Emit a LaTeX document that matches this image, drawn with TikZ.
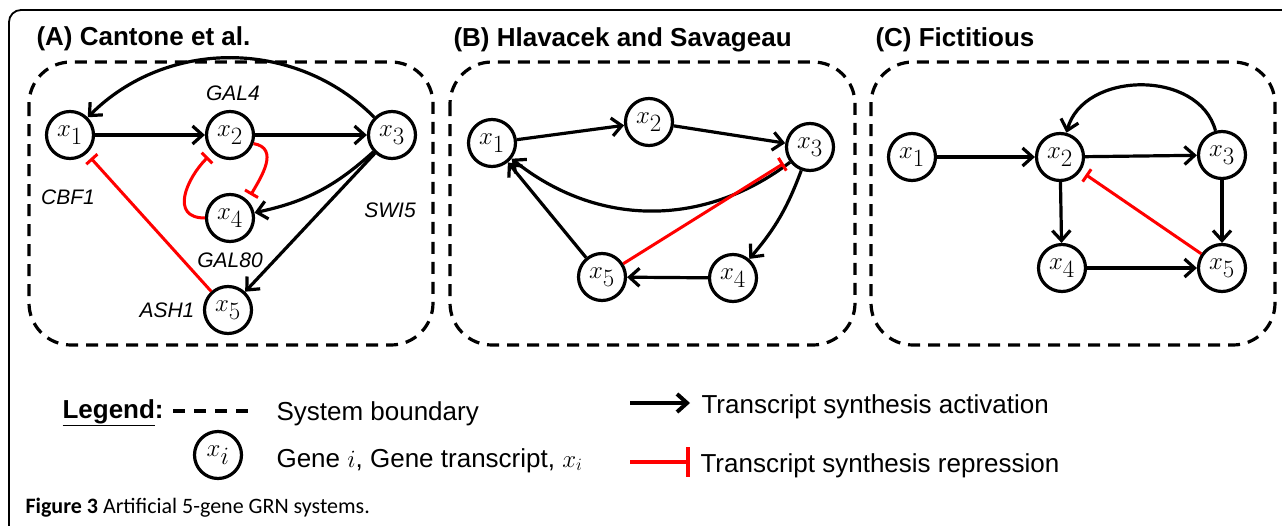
\documentclass[tikz,border=0pt]{standalone}
\usepackage{fontspec}
\setmainfont{Liberation Sans}
\newfontfamily\capfont{Carlito}
\usetikzlibrary{arrows.meta}

\begin{document}
\begin{tikzpicture}[x=1pt, y=1pt,
      gene/.style = {circle, draw, line width=3.2pt, minimum size=47pt,
        inner sep=0pt, font=\fontsize{33}{33}\selectfont},
      act/.style = {-{Straight Barb[length=10pt,width=18pt]}, line width=3.2pt},
      rep/.style = {-{Bar[width=15pt]}, draw=red, line width=3pt, shorten >=6pt},
      boundary/.style = {draw, line width=3.2pt, dash pattern=on 12pt off 8pt,
        rounded corners=42pt},
      heading/.style = {anchor=base west, font=\fontsize{26}{26}\selectfont\bfseries},
      genename/.style = {font=\fontsize{21}{21}\selectfont\itshape},
      key/.style = {anchor=base west, font=\fontsize{26}{26}\selectfont}]
  \path[use as bounding box] (0,0) rectangle (1282,-525);
  \draw[line width=1.8pt, rounded corners=12pt] (9,-540) |- (1300,-10);

  \draw[boundary] (29,-62) rectangle (433,-345);
  \draw[boundary] (450,-62) rectangle (855,-345);
  \draw[boundary] (871,-62) rectangle (1275,-345);

  \node[heading] (tA) at (33,-45) {(A) Cantone et al.};
  \node[heading] (tB) at (450,-46) {(B) Hlavacek and Savageau};
  \node[heading] (tC) at (872,-46) {(C) Fictitious};

  \node[gene] (a1) at (70,-135) {$x_1$};
  \node[gene] (a2) at (230,-135) {$x_2$};
  \node[gene] (a3) at (392,-135) {$x_3$};
  \node[gene] (a4) at (230,-218) {$x_4$};
  \node[gene] (a5) at (228,-310) {$x_5$};
  \node[genename] (gal4) at (233,-93) {GAL4};
  \node[genename] (cbf1) at (68,-197) {CBF1};
  \node[genename] (swi5) at (390,-210) {SWI5};
  \node[genename] (gal80) at (230,-260) {GAL80};
  \node[genename] (ash1) at (167,-310) {ASH1};
  \draw[act] (a1) -- (a2);
  \draw[act] (a2) -- (a3);
  \draw[act] (a3) to[bend right=45] (a1);
  \draw[act] (a3) to[bend left=15] (a4);
  \draw[act] (a3) -- (a5);
  \draw[rep] (a2.-20) to[out=-10, in=60, looseness=1.2] (a4.45);
  \draw[rep] (a4.180) to[out=180, in=225, looseness=1.4] (a2.225);
  \draw[rep] (a5) -- (a1);

  \node[gene] (b1) at (492,-143) {$x_1$};
  \node[gene] (b2) at (649,-122) {$x_2$};
  \node[gene] (b3) at (810,-147) {$x_3$};
  \node[gene] (b4) at (733,-278) {$x_4$};
  \node[gene] (b5) at (602,-277) {$x_5$};
  \draw[act] (b1) -- (b2);
  \draw[act] (b2) -- (b3);
  \draw[act] (b3) to[bend left=38] (b1);
  \draw[act] (b3) to[bend left=10] (b4);
  \draw[act] (b4) -- (b5);
  \draw[act] (b5) -- (b1);
  \draw[rep] (b5) -- (b3);

  \node[gene] (c1) at (912,-157) {$x_1$};
  \node[gene] (c2) at (1060,-157) {$x_2$};
  \node[gene] (c3) at (1222,-155) {$x_3$};
  \node[gene] (c4) at (1062,-268) {$x_4$};
  \node[gene] (c5) at (1222,-268) {$x_5$};
  \draw[act] (c1) -- (c2);
  \draw[act] (c2) -- (c3);
  \draw[act] (c3) to[out=105, in=75, looseness=1.1] (c2);
  \draw[act] (c2) -- (c4);
  \draw[act] (c3) -- (c5);
  \draw[act] (c4) -- (c5);
  \draw[rep] (c5) -- (c2);

  \node[key] (leg) at (59,-418) {\bfseries\underline{Legend}:};
  \coordinate (d0) at (173,-411);
  \coordinate (d1) at (250,-411);
  \draw[line width=3.5pt, dash pattern=on 12pt off 9pt] (d0) -- (d1);
  \node[key] (sysb) at (273,-420) {System boundary};
  \node[gene] (xi) at (218,-455) {$x_i$};
  \node[key] (genei) at (273,-467) {Gene $i$, Gene transcript, $x_i$};
  \coordinate (ka0) at (630,-403);
  \coordinate (ka1) at (690,-403);
  \draw[act, line width=4pt] (ka0) -- (ka1);
  \node[key] (acttxt) at (698,-413) {Transcript synthesis activation};
  \coordinate (kr0) at (630,-462);
  \coordinate (kr1) at (690,-462);
  \draw[rep, line width=4pt, shorten >=0pt, -{Bar[width=30pt]}] (kr0) -- (kr1);
  \node[key] (reptxt) at (697,-472) {Transcript synthesis repression};

  \node[anchor=base west, font=\capfont\fontsize{22}{22}\selectfont] (cap)
    at (22,-513) {\textbf{Figure 3} Artificial 5-gene GRN systems.};
\end{tikzpicture}
\end{document}
